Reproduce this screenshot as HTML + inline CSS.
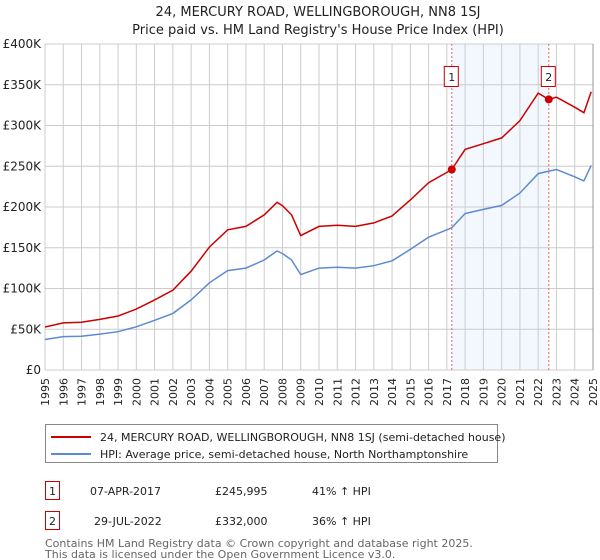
<!DOCTYPE html>
<html><head><meta charset="utf-8">
<style>
body{margin:0;background:#fff;font-family:"DejaVu Sans","Liberation Sans",sans-serif;}
svg{display:block}
text{font-family:"DejaVu Sans","Liberation Sans",sans-serif;}
</style></head>
<body>
<svg id="c" width="600" height="560">
<text x="318" y="16" text-anchor="middle" font-size="13" fill="#222">24, MERCURY ROAD, WELLINGBOROUGH, NN8 1SJ</text>
<text x="318" y="34" text-anchor="middle" font-size="13" fill="#222">Price paid vs. HM Land Registry's House Price Index (HPI)</text>
<g id="grid"></g><g id="series"></g><g id="axes"></g>
<g>
<rect x="45.5" y="424.5" width="452" height="38" fill="#fff" stroke="#888"/>
<line x1="51" y1="437" x2="91" y2="437" stroke="#cc0000" stroke-width="2"/>
<text x="100" y="441" font-size="11" fill="#222">24, MERCURY ROAD, WELLINGBOROUGH, NN8 1SJ (semi-detached house)</text>
<line x1="51" y1="454" x2="91" y2="454" stroke="#5b8bd0" stroke-width="2"/>
<text x="100" y="458" font-size="11" fill="#222">HPI: Average price, semi-detached house, North Northamptonshire</text>
</g>
<g font-size="11" fill="#222">
<rect x="45.5" y="481.5" width="14" height="18" fill="#fff" stroke="#cc0000"/>
<text x="52.5" y="495" text-anchor="middle">1</text>
<text x="90" y="495">07-APR-2017</text><text x="215" y="495">£245,995</text><text x="312" y="495">41% ↑ HPI</text>
<rect x="45.5" y="511.5" width="14" height="18" fill="#fff" stroke="#cc0000"/>
<text x="52.5" y="525" text-anchor="middle">2</text>
<text x="94" y="525">29-JUL-2022</text><text x="215" y="525">£332,000</text><text x="312" y="525">36% ↑ HPI</text>
</g>
<text x="45" y="547" font-size="11" fill="#666">Contains HM Land Registry data © Crown copyright and database right 2025.</text>
<text x="45" y="558" font-size="11" fill="#666">This data is licensed under the Open Government Licence v3.0.</text>
</svg>
<script>
const hpiYears=[1995,1996,1997,1998,1999,2000,2001,2002,2003,2004,2005,2006,2007,2007.7,2008,2008.5,2009,2010,2011,2012,2013,2014,2015,2016,2017,2017.27,2018,2019,2020,2021,2022,2022.58,2023,2024,2024.5,2024.9];
const hpiValues=[37.4,41,41.5,44,47,53,61,69.5,86,107,122,125,135,146,143,135,117,125,126,125,128,134,148,163,172,174.5,192,197,202,217,241,244,246,237,232,251];
const saleDates=[2017.27,2022.58];
const salePrices=[245.995,332];
const saleLabels=["1","2"];
const yTicks=[0,50,100,150,200,250,300,350,400];
const yTickLabels=["£0","£50K","£100K","£150K","£200K","£250K","£300K","£350K","£400K"];
const xTicks=[1995,1996,1997,1998,1999,2000,2001,2002,2003,2004,2005,2006,2007,2008,2009,2010,2011,2012,2013,2014,2015,2016,2017,2018,2019,2020,2021,2022,2023,2024,2025];

const NS="http://www.w3.org/2000/svg";
const X0=45,X1=593,Y0=370,Y1=44;
const xs=t=>X0+(t-1995)/30*(X1-X0);
const ys=v=>Y0-v/400*(Y0-Y1);
function mk(tag,attrs,parent){const e=document.createElementNS(NS,tag);for(const k in attrs)e.setAttribute(k,attrs[k]);parent.appendChild(e);return e;}
const grid=document.getElementById('grid'),series=document.getElementById('series'),axes=document.getElementById('axes');
const band=mk('rect',{x:xs(saleDates[0]),y:Y1,width:xs(saleDates[1])-xs(saleDates[0]),height:Y0-Y1,fill:'#eef3fd',opacity:0.7},grid);


xTicks.forEach(t=>{
 const l=mk('line',{x1:xs(t),x2:xs(t),y1:Y1,y2:Y0,stroke:'#ccc','stroke-width':1},grid);
 
 
 const tx=mk('text',{transform:`translate(${xs(t)+4},${Y0+8}) rotate(-90)`,'text-anchor':'end','font-size':11,fill:'#222'},axes);
 tx.textContent=t;
 
 
});
yTicks.forEach((v,i)=>{
 const l=mk('line',{x1:X0,x2:X1,y1:ys(v),y2:ys(v),stroke:'#ccc','stroke-width':1},grid);
 
 
 const tx=mk('text',{x:X0-4,y:ys(v)+4,'text-anchor':'end','font-size':12,fill:'#222'},axes);
 tx.textContent=yTickLabels[i];
 
 
});
saleDates.forEach((d,i)=>{
 const l=mk('line',{x1:xs(d),x2:xs(d),y1:Y1,y2:Y0,stroke:'#f06060','stroke-width':1,'stroke-dasharray':'2,2'},series);
 
 
 const b=mk('rect',{x:xs(d)-7.5,y:66.5,width:14,height:20,fill:'#fff',stroke:'#cc0000'},series);
 
 
 const t=mk('text',{x:xs(d),y:81,'text-anchor':'middle','font-size':11,fill:'#222'},series);
 t.textContent=saleLabels[i];
 
 
});
const hpiAt=t=>{for(let i=0;i<hpiYears.length-1;i++){if(t<=hpiYears[i+1]){const f=(t-hpiYears[i])/(hpiYears[i+1]-hpiYears[i]);return hpiValues[i]+f*(hpiValues[i+1]-hpiValues[i]);}}return hpiValues[hpiValues.length-1];};
const r1=salePrices[0]/hpiAt(saleDates[0]),r2=salePrices[1]/hpiAt(saleDates[1]);
const pts=(f)=>hpiYears.map((t,i)=>`${xs(t).toFixed(1)},${ys(f(t,hpiValues[i])).toFixed(1)}`).join(' ');
const blue=mk('polyline',{points:pts((t,v)=>v),fill:'none',stroke:'#5b8bd0','stroke-width':1.5},series);


const red=mk('polyline',{points:pts((t,v)=>v*(t<saleDates[1]?r1:r2)),fill:'none',stroke:'#cc0000','stroke-width':1.5},series);


saleDates.forEach((d,i)=>{
 const c=mk('circle',{cx:xs(d),cy:ys(salePrices[i]),r:4,fill:'#cc0000'},series);
 
 
});
const ax=mk('line',{x1:X1,x2:X1,y1:Y1,y2:Y0,stroke:'#999'},axes);


</script>
</body></html>
